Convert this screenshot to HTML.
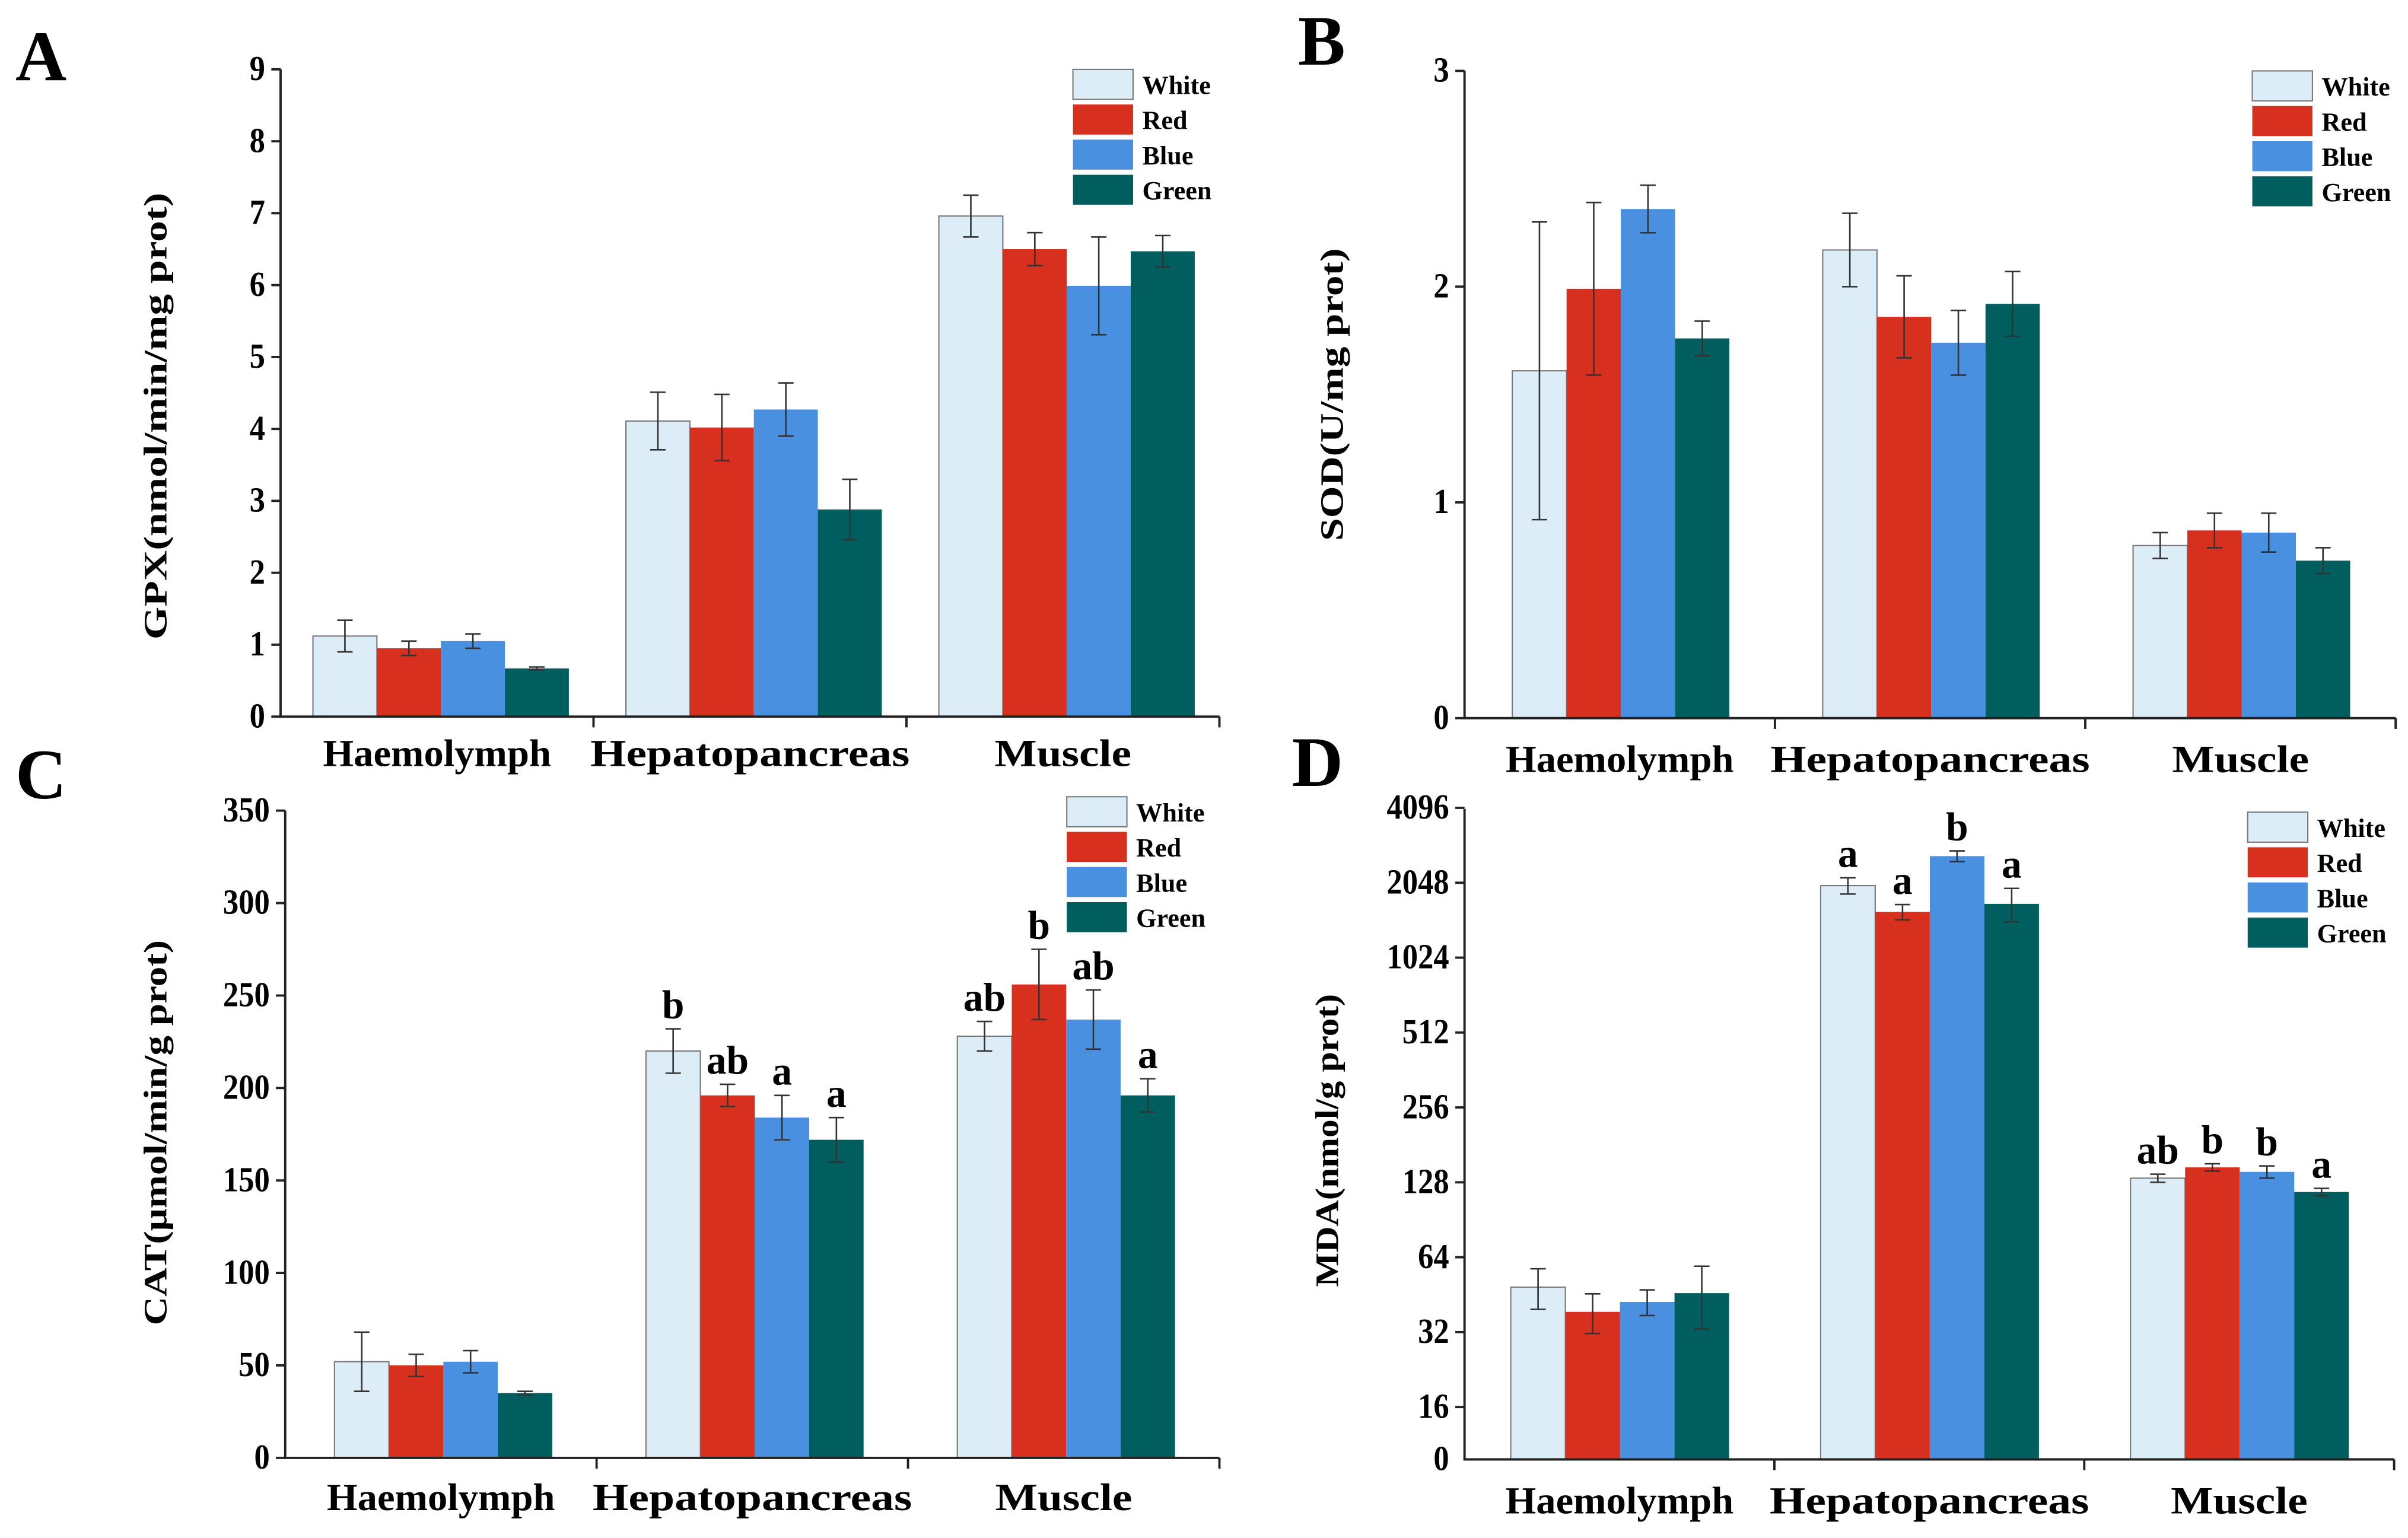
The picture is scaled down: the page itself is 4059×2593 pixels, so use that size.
<!DOCTYPE html>
<html><head><meta charset="utf-8"><style>
html,body{margin:0;padding:0;background:#fff}
svg{display:block}
text{font-family:"Liberation Serif",serif;font-weight:bold;fill:#000}
</style></head><body>
<svg id="fig" width="4059" height="2593" viewBox="0 0 1562 998" preserveAspectRatio="none" xmlns="http://www.w3.org/2000/svg"></svg>
<script>
const categories = ["Haemolymph","Hepatopancreas","Muscle"];
const seriesNames = ["White","Red","Blue","Green"];
const seriesColors = ["#dcedf8","#d8301f","#4a90e0","#005f5e"];
// Panel A: GPX
const gpxWhite = [1.12, 4.11, 6.96];
const gpxRed   = [0.95, 4.02, 6.50];
const gpxBlue  = [1.05, 4.27, 5.99];
const gpxGreen = [0.67, 2.88, 6.47];
const gpxErrWhite = [0.22, 0.40, 0.29];
const gpxErrRed   = [0.10, 0.46, 0.23];
const gpxErrBlue  = [0.10, 0.37, 0.68];
const gpxErrGreen = [0.02, 0.42, 0.22];
const gpxTicks = [0,1,2,3,4,5,6,7,8,9];
// Panel B: SOD
const sodWhite = [1.61, 2.17, 0.80];
const sodRed   = [1.99, 1.86, 0.87];
const sodBlue  = [2.36, 1.74, 0.86];
const sodGreen = [1.76, 1.92, 0.73];
const sodErrWhite = [0.69, 0.17, 0.06];
const sodErrRed   = [0.40, 0.19, 0.08];
const sodErrBlue  = [0.11, 0.15, 0.09];
const sodErrGreen = [0.08, 0.15, 0.06];
const sodTicks = [0,1,2,3];
// Panel C: CAT
const catWhite = [52, 220, 228];
const catRed   = [50, 196, 256];
const catBlue  = [52, 184, 237];
const catGreen = [35, 172, 196];
const catErrWhite = [16, 12, 8];
const catErrRed   = [6, 6, 19];
const catErrBlue  = [6, 12, 16];
const catErrGreen = [1, 12, 9];
const catLetters = [["","","",""],["b","ab","a","a"],["ab","b","ab","a"]];
const catTicks = [0,50,100,150,200,250,300,350];
// Panel D: MDA (log2 axis)
const mdaWhite = [48.5, 1994, 133];
const mdaRed   = [38.6, 1563, 147];
const mdaBlue  = [42.3, 2620, 141];
const mdaGreen = [45.9, 1684, 117];
const mdaErrWhite = [9, 150, 5];
const mdaErrRed   = [7, 110, 5];
const mdaErrBlue  = [5, 130, 8];
const mdaErrGreen = [13, 260, 4];
const mdaLetters = [["","","",""],["a","a","b","a"],["ab","b","b","a"]];
const mdaTicks = [16,32,64,128,256,512,1024,2048,4096];

const NS="http://www.w3.org/2000/svg";
const svg=document.getElementById('fig');
function el(tag,attrs,parent){const e=document.createElementNS(NS,tag);for(const k in attrs)e.setAttribute(k,attrs[k]);(parent||svg).appendChild(e);return e;}
function txt(s,attrs,parent){const t=el('text',attrs,parent);t.textContent=s;return t;}

function drawPanel(p){
  const g=el('g',{});
  
  
  const y=p.yScale;
  const L=txt(p.id,{x:p.letterX,y:p.letterY,'font-size':46},g);
  
  
  const series=[p.w,p.r,p.b,p.gr], errs=[p.ew,p.er,p.eb,p.eg];
  const secW=(p.x1-p.x0)/categories.length;
  for(let c=0;c<categories.length;c++){
    for(let s=0;s<4;s++){
      const v=series[s][c], e=errs[s][c];
      const bx=p.x0+c*secW+p.barOff+s*p.barW;
      const top=y(v);
      const r=el('rect',{x:bx,y:top,width:p.barW,height:p.base-top,fill:seriesColors[s],stroke:s===0?'#777':'none','stroke-width':0.8},g);
      
      
      const cx=bx+p.barW/2, yt=y(v+e), yb=y(Math.max(v-e,p.minV));
      const eb=el('path',{d:`M${cx} ${yt}V${yb}M${cx-5} ${yt}H${cx+5}M${cx-5} ${yb}H${cx+5}`,stroke:'#333','stroke-width':1,fill:'none'},g);
      
      
      if(p.letters && p.letters[c][s]){
        const lt=txt(p.letters[c][s],{x:cx,y:yt-7,'font-size':26,'text-anchor':'middle'},g);
        
        
      }
    }
  }
  const ax=el('path',{d:`M${p.x0} ${p.topY}V${p.base}H${p.x1}`,stroke:'#222','stroke-width':1.5,fill:'none'},g);
  
  
  for(let c=1;c<=categories.length;c++){
    const sx=p.x0+c*secW;
    el('line',{x1:sx,y1:p.base,x2:sx,y2:p.base+7,stroke:'#222','stroke-width':1.5},g);
  }
  p.ticks.forEach(t=>{
    const ty=y(t);
    el('line',{x1:p.x0-6,y1:ty,x2:p.x0,y2:ty,stroke:'#222','stroke-width':1.5},g);
    const tl=txt(String(t),{x:0,y:0,'font-size':23,'text-anchor':'end',transform:`translate(${p.x0-10},${ty+7}) scale(0.88,1)`},g);
    
    
  });
  if(p.zeroLabel){
    const z=txt('0',{x:0,y:0,'font-size':23,'text-anchor':'end',transform:`translate(${p.x0-10},${p.base+7}) scale(0.88,1)`},g);
    
    
  }
  categories.forEach((cn,c)=>{
    const cl=txt(cn,{x:p.x0+(c+0.5)*secW,y:p.catY,'font-size':25,'text-anchor':'middle',textLength:cn.length*14.8,lengthAdjust:'spacingAndGlyphs'},g);
    
    
  });
  const yt=txt(p.title,{x:0,y:0,'font-size':21,'text-anchor':'middle',transform:`translate(${p.titleX},${p.titleCY}) rotate(-90)`,textLength:p.titleLen,lengthAdjust:'spacingAndGlyphs'},g);
  
  
  const lg=el('g',{},g);
  
  
  seriesNames.forEach((n,i)=>{
    const ly=p.legY+i*22.8;
    const lr=el('rect',{x:p.legX,y:ly,width:39,height:19.5,fill:seriesColors[i],stroke:i===0?'#777':'none','stroke-width':0.8},lg);
    
    
    const lt=txt(n,{x:p.legX+45,y:ly+16,'font-size':17},lg);
    
    
  });
}
function lin(d0,d1,r0,r1){return v=>r0+(v-d0)/(d1-d0)*(r1-r0);}
function log2s(base16y,step,base){return v=>{if(v<=0)return base;const yy=base16y-(Math.log2(v)-4)*step;return Math.min(yy,base);};}

drawPanel({id:'A',letterX:10,letterY:52,x0:182,x1:791,topY:45,base:465,yScale:lin(0,9,465,45),minV:0,
  barOff:21,barW:41.5,w:gpxWhite,r:gpxRed,b:gpxBlue,gr:gpxGreen,ew:gpxErrWhite,er:gpxErrRed,eb:gpxErrBlue,eg:gpxErrGreen,
  ticks:gpxTicks,catY:497,title:'GPX(nmol/min/mg prot)',titleX:108,titleCY:270,titleLen:290,legX:696,legY:45});
drawPanel({id:'B',letterX:842,letterY:42,x0:950,x1:1554,topY:46,base:466,yScale:lin(0,3,466,46),minV:0,
  barOff:31,barW:35.2,w:sodWhite,r:sodRed,b:sodBlue,gr:sodGreen,ew:sodErrWhite,er:sodErrRed,eb:sodErrBlue,eg:sodErrGreen,
  ticks:sodTicks,catY:501,title:'SOD(U/mg prot)',titleX:871,titleCY:256,titleLen:190,legX:1461,legY:46});
drawPanel({id:'C',letterX:10,letterY:518,x0:185,x1:791,topY:526,base:946,yScale:lin(0,350,946,526),minV:0,
  barOff:32,barW:35.3,w:catWhite,r:catRed,b:catBlue,gr:catGreen,ew:catErrWhite,er:catErrRed,eb:catErrBlue,eg:catErrGreen,letters:catLetters,
  ticks:catTicks,catY:980,title:'CAT(μmol/min/g prot)',titleX:108,titleCY:735,titleLen:250,legX:692,legY:517});
drawPanel({id:'D',letterX:838,letterY:510,x0:950,x1:1553,topY:525,base:947,yScale:log2s(913,48.6,947),minV:1,
  barOff:30,barW:35.4,w:mdaWhite,r:mdaRed,b:mdaBlue,gr:mdaGreen,ew:mdaErrWhite,er:mdaErrRed,eb:mdaErrBlue,eg:mdaErrGreen,letters:mdaLetters,
  ticks:mdaTicks,zeroLabel:true,catY:982,title:'MDA(nmol/g prot)',titleX:868,titleCY:740,titleLen:190,legX:1458,legY:527});
</script>
</body></html>
